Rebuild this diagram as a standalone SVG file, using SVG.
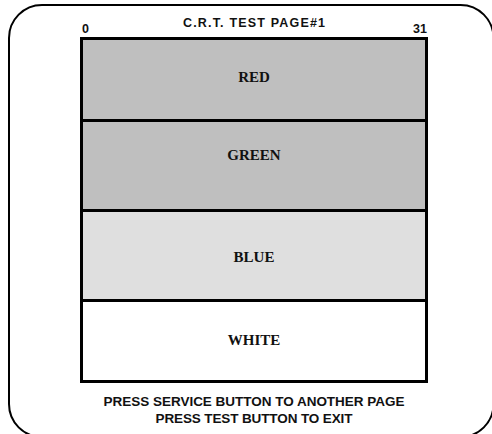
<svg xmlns="http://www.w3.org/2000/svg" width="492" height="434" viewBox="0 0 492 434">
<style>
.band{stroke:#000;stroke-width:3}
.lbl{font-family:"Liberation Serif",serif;font-weight:bold;font-size:15px;text-anchor:middle;fill:#111}
.sans{font-family:"Liberation Sans",Arial,sans-serif;font-weight:bold;font-size:12.5px;fill:#111}
.foot{font-family:"Liberation Sans",Arial,sans-serif;font-weight:bold;font-size:13.5px;fill:#111;text-anchor:middle}
</style>
<rect x="9" y="5" width="484.5" height="432" rx="33" ry="33" fill="#fff" stroke="#000" stroke-width="2"/>
<text class="sans" x="254" y="26.5" text-anchor="middle" textLength="142" lengthAdjust="spacing">C.R.T. TEST PAGE#1</text>
<text class="sans" x="82" y="33">0</text>
<text class="sans" x="427" y="33" text-anchor="end">31</text>
<g id="red"><rect class="band" x="81.5" y="38.5" width="345" height="82" fill="#bfbfbf"/><text class="lbl" x="254" y="81.5">RED</text></g>
<g id="green"><rect class="band" x="81.5" y="120.5" width="345" height="90" fill="#bfbfbf"/><text class="lbl" x="254" y="160">GREEN</text></g>
<g id="blue"><rect class="band" x="81.5" y="210.5" width="345" height="90" fill="#dfdfdf"/><text class="lbl" x="254" y="262">BLUE</text></g>
<g id="white"><rect class="band" x="81.5" y="300.5" width="345" height="81" fill="#fff"/><text class="lbl" x="254" y="345">WHITE</text></g>
<g id="connectors"></g>
<text class="foot" x="254" y="406" textLength="301" lengthAdjust="spacing">PRESS SERVICE BUTTON TO ANOTHER PAGE</text>
<text class="foot" x="254" y="423" textLength="197" lengthAdjust="spacing">PRESS TEST BUTTON TO EXIT</text>
</svg>
